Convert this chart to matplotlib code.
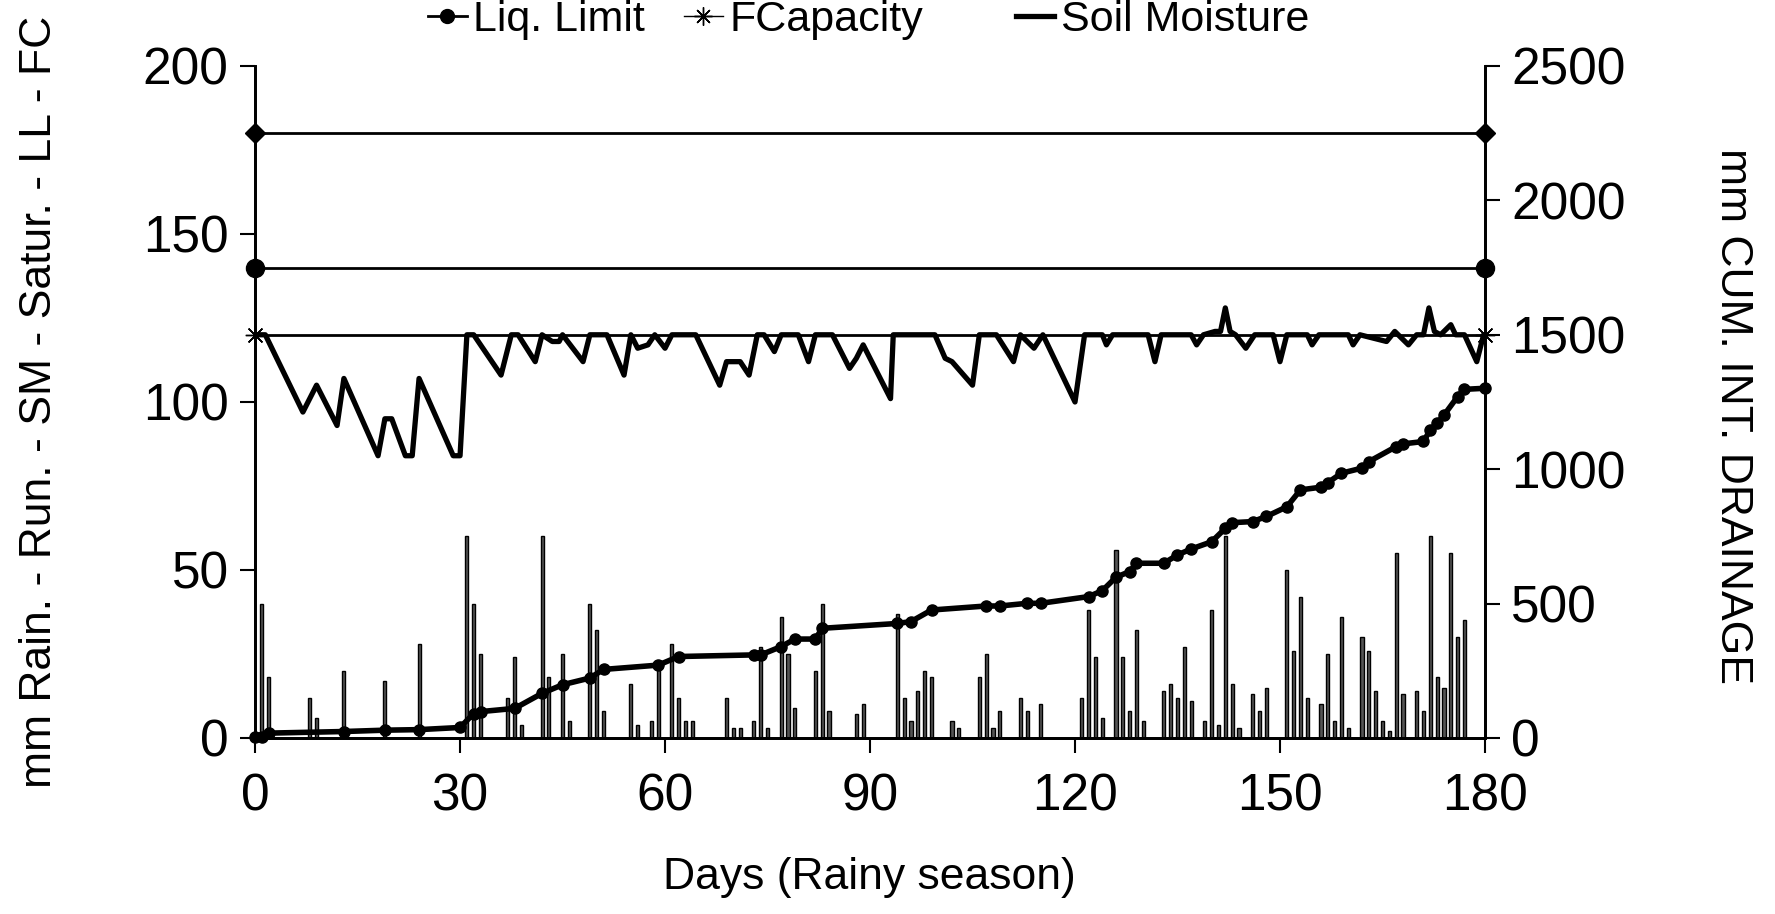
import numpy as np
import matplotlib
matplotlib.use("Agg")
import matplotlib.pyplot as plt
from matplotlib.lines import Line2D

plt.rcParams['font.family'] = ['Liberation Sans', 'DejaVu Sans']

# Daily rain (mm)
rain_days = [1, 2, 8, 9, 13, 19, 24, 31, 32, 33, 37, 38, 39, 42, 43, 45, 46, 49, 50, 51,
             55, 56, 58, 59, 61, 62, 63, 64, 69, 70, 71, 73, 74, 75, 77, 78, 79, 82, 83, 84,
             88, 89, 94, 95, 96, 97, 98, 99, 102, 103, 106, 107, 108, 109, 112, 113, 115,
             121, 122, 123, 124, 126, 127, 128, 129, 130, 133, 134, 135, 136, 137, 139, 140,
             141, 142, 143, 144, 146, 147, 148, 151, 152, 153, 154, 156, 157, 158, 159, 160,
             162, 163, 164, 165, 166, 167, 168, 170, 171, 172, 173, 174, 175, 176, 177]
rain_mm = [40, 18, 12, 6, 20, 17, 28, 60, 40, 25, 12, 24, 4, 60, 18, 25, 5, 40, 32, 8,
           16, 4, 5, 22, 28, 12, 5, 5, 12, 3, 3, 5, 27, 3, 36, 25, 9, 20, 40, 8,
           7, 10, 37, 12, 5, 14, 20, 18, 5, 3, 18, 25, 3, 8, 12, 8, 10,
           12, 38, 24, 6, 56, 24, 8, 32, 5, 14, 16, 12, 27, 11, 5, 38,
           4, 60, 16, 3, 13, 8, 15, 50, 26, 42, 12, 10, 25, 5, 36, 3,
           30, 26, 14, 5, 2, 55, 13, 14, 8, 60, 18, 15, 55, 30, 35]

# Soil moisture (mm)
sm_days = [0.5, 1.5, 7, 9, 12, 13, 18, 19, 20, 22, 23, 24, 29, 30, 31, 32, 36, 37.5, 38.5, 41,
           42, 43.5, 44.5, 45, 48, 49, 51.5, 54, 55, 56, 57.5, 58.5, 60, 61, 64.5, 68, 69, 71,
           72.3, 73.5, 74.5, 76, 77, 79.5, 81, 82, 84.5, 87, 88, 89, 93, 93.4, 99.5, 101, 102,
           105, 106, 108.5, 111, 112, 114, 115.3, 120, 121.4, 124, 124.6, 125.5, 130.7, 131.7,
           132.6, 137, 137.8, 138.8, 140.5, 141.3, 142, 142.7, 143.5, 145, 146.3, 149, 150,
           151, 154, 154.7, 155.7, 160, 160.7, 161.7, 165.6, 166.8, 168.8, 170, 171, 171.8,
           172.6, 173.5, 174.5, 175, 175.7, 177, 178.8, 179.8, 180]
sm_mm = [120, 120, 97, 105, 93, 107, 84, 95, 95, 84, 84, 107, 84, 84, 120, 120, 108, 120, 120, 112,
         120, 118, 118, 120, 112, 120, 120, 108, 120, 116, 117, 120, 116, 120, 120, 105, 112, 112,
         108, 120, 120, 115, 120, 120, 112, 120, 120, 110, 113, 117, 101, 120, 120, 113, 112,
         105, 120, 120, 112, 120, 116, 120, 100, 120, 120, 117, 120, 120, 112,
         120, 120, 117, 120, 121, 121, 128, 121, 120, 116, 120, 120, 112,
         120, 120, 117, 120, 120, 117, 120, 118, 121, 117, 120, 120, 128,
         121, 120, 122, 123, 120, 120, 112, 120, 120]

# Cumulative internal drainage (mm, right axis)
dr_days = [0, 1, 2, 13, 19, 24, 30, 32, 33, 38, 42, 45, 49, 51, 59, 62, 73, 74, 77, 79, 82, 83,
           94, 96, 99, 107, 109, 113, 115, 122, 124, 126, 128, 129, 133, 135, 137, 140, 142,
           143, 146, 148, 151, 153, 156, 157, 159, 162, 163, 167, 168, 171, 172, 173, 174,
           176, 177, 180]
dr_mm = [5, 5, 18, 24, 29, 31, 39, 91, 98, 110, 166, 198, 223, 255, 271, 303, 309, 309, 340, 368,
         368, 408, 426, 433, 476, 491, 491, 501, 501, 526, 548, 598, 619, 650, 650, 681, 703,
         730, 780, 801, 805, 824, 860, 923, 933, 950, 985, 1004, 1028, 1084, 1094, 1103,
         1146, 1171, 1201, 1270, 1297, 1301]

# Constant levels (mm)
season = [0, 180]
saturation = 180
liq_limit = 140
field_cap = 120

fig = plt.figure(figsize=(17.75, 9.14), dpi=100)
ax = fig.add_axes([0.1437, 0.1926, 0.6929, 0.7352])
ax2 = ax.twinx()

ax.bar(rain_days, rain_mm, width=0.45, color='#555555', edgecolor='black', linewidth=1.0, zorder=2)

ax.plot(season, [saturation] * 2, color='black', lw=2.0, marker='D', ms=10, clip_on=False, zorder=3)
ax.plot(season, [liq_limit] * 2, color='black', lw=2.0, marker='o', ms=13, clip_on=False, zorder=3)
ax.plot(season, [field_cap] * 2, color='black', lw=2.0, marker=(8, 2, 0), ms=14,
        mew=1.0, clip_on=False, zorder=3)
ax.plot(sm_days, sm_mm, color='black', lw=3.8, solid_joinstyle='round', zorder=4)

ax2.plot(dr_days, dr_mm, color='black', lw=4.0, marker='o', ms=8, clip_on=False, zorder=5)

ax.set_xlim(0, 180)
ax.set_ylim(0, 200)
ax2.set_ylim(0, 2500)
ax.set_xticks(range(0, 181, 30))
ax.set_yticks(range(0, 201, 50))
ax2.set_yticks(range(0, 2501, 500))

for a in (ax, ax2):
    a.spines['top'].set_visible(False)
    for s in a.spines.values():
        s.set_linewidth(2)
    a.tick_params(direction='out', length=11, width=1.5, labelsize=37, pad=8)
ax.tick_params(axis='x', pad=14)

fig.text(0.022, 0.56, 'mm Rain. - Run. - SM - Satur. - LL - FC', rotation=90,
         ha='center', va='center', fontsize=32)
fig.text(0.976, 0.545, 'mm CUM. INT. DRAINAGE', rotation=270,
         ha='center', va='center', fontsize=32)
fig.text(0.49, 0.04, 'Days (Rainy season)', ha='center', va='center', fontsize=32)

h_ll = Line2D([], [], color='black', lw=2.0, marker='o', ms=10)
h_fc = Line2D([], [], color='black', lw=1.0, marker=(8, 2, 0), ms=13, mew=1.0)
h_sm = Line2D([], [], color='black', lw=3.8)
fig.legend([h_ll, h_fc], ['Liq. Limit', 'FCapacity'], loc='center left',
           bbox_to_anchor=(0.229, 0.978), ncol=2, frameon=False, fontsize=31,
           handlelength=0.9, handletextpad=0.15, columnspacing=0.9, borderpad=0)
fig.legend([h_sm], ['Soil Moisture'], loc='center left',
           bbox_to_anchor=(0.56, 0.978), frameon=False, fontsize=31,
           handlelength=0.9, handletextpad=0.15, borderpad=0)

fig.savefig('out.png', dpi=100)
